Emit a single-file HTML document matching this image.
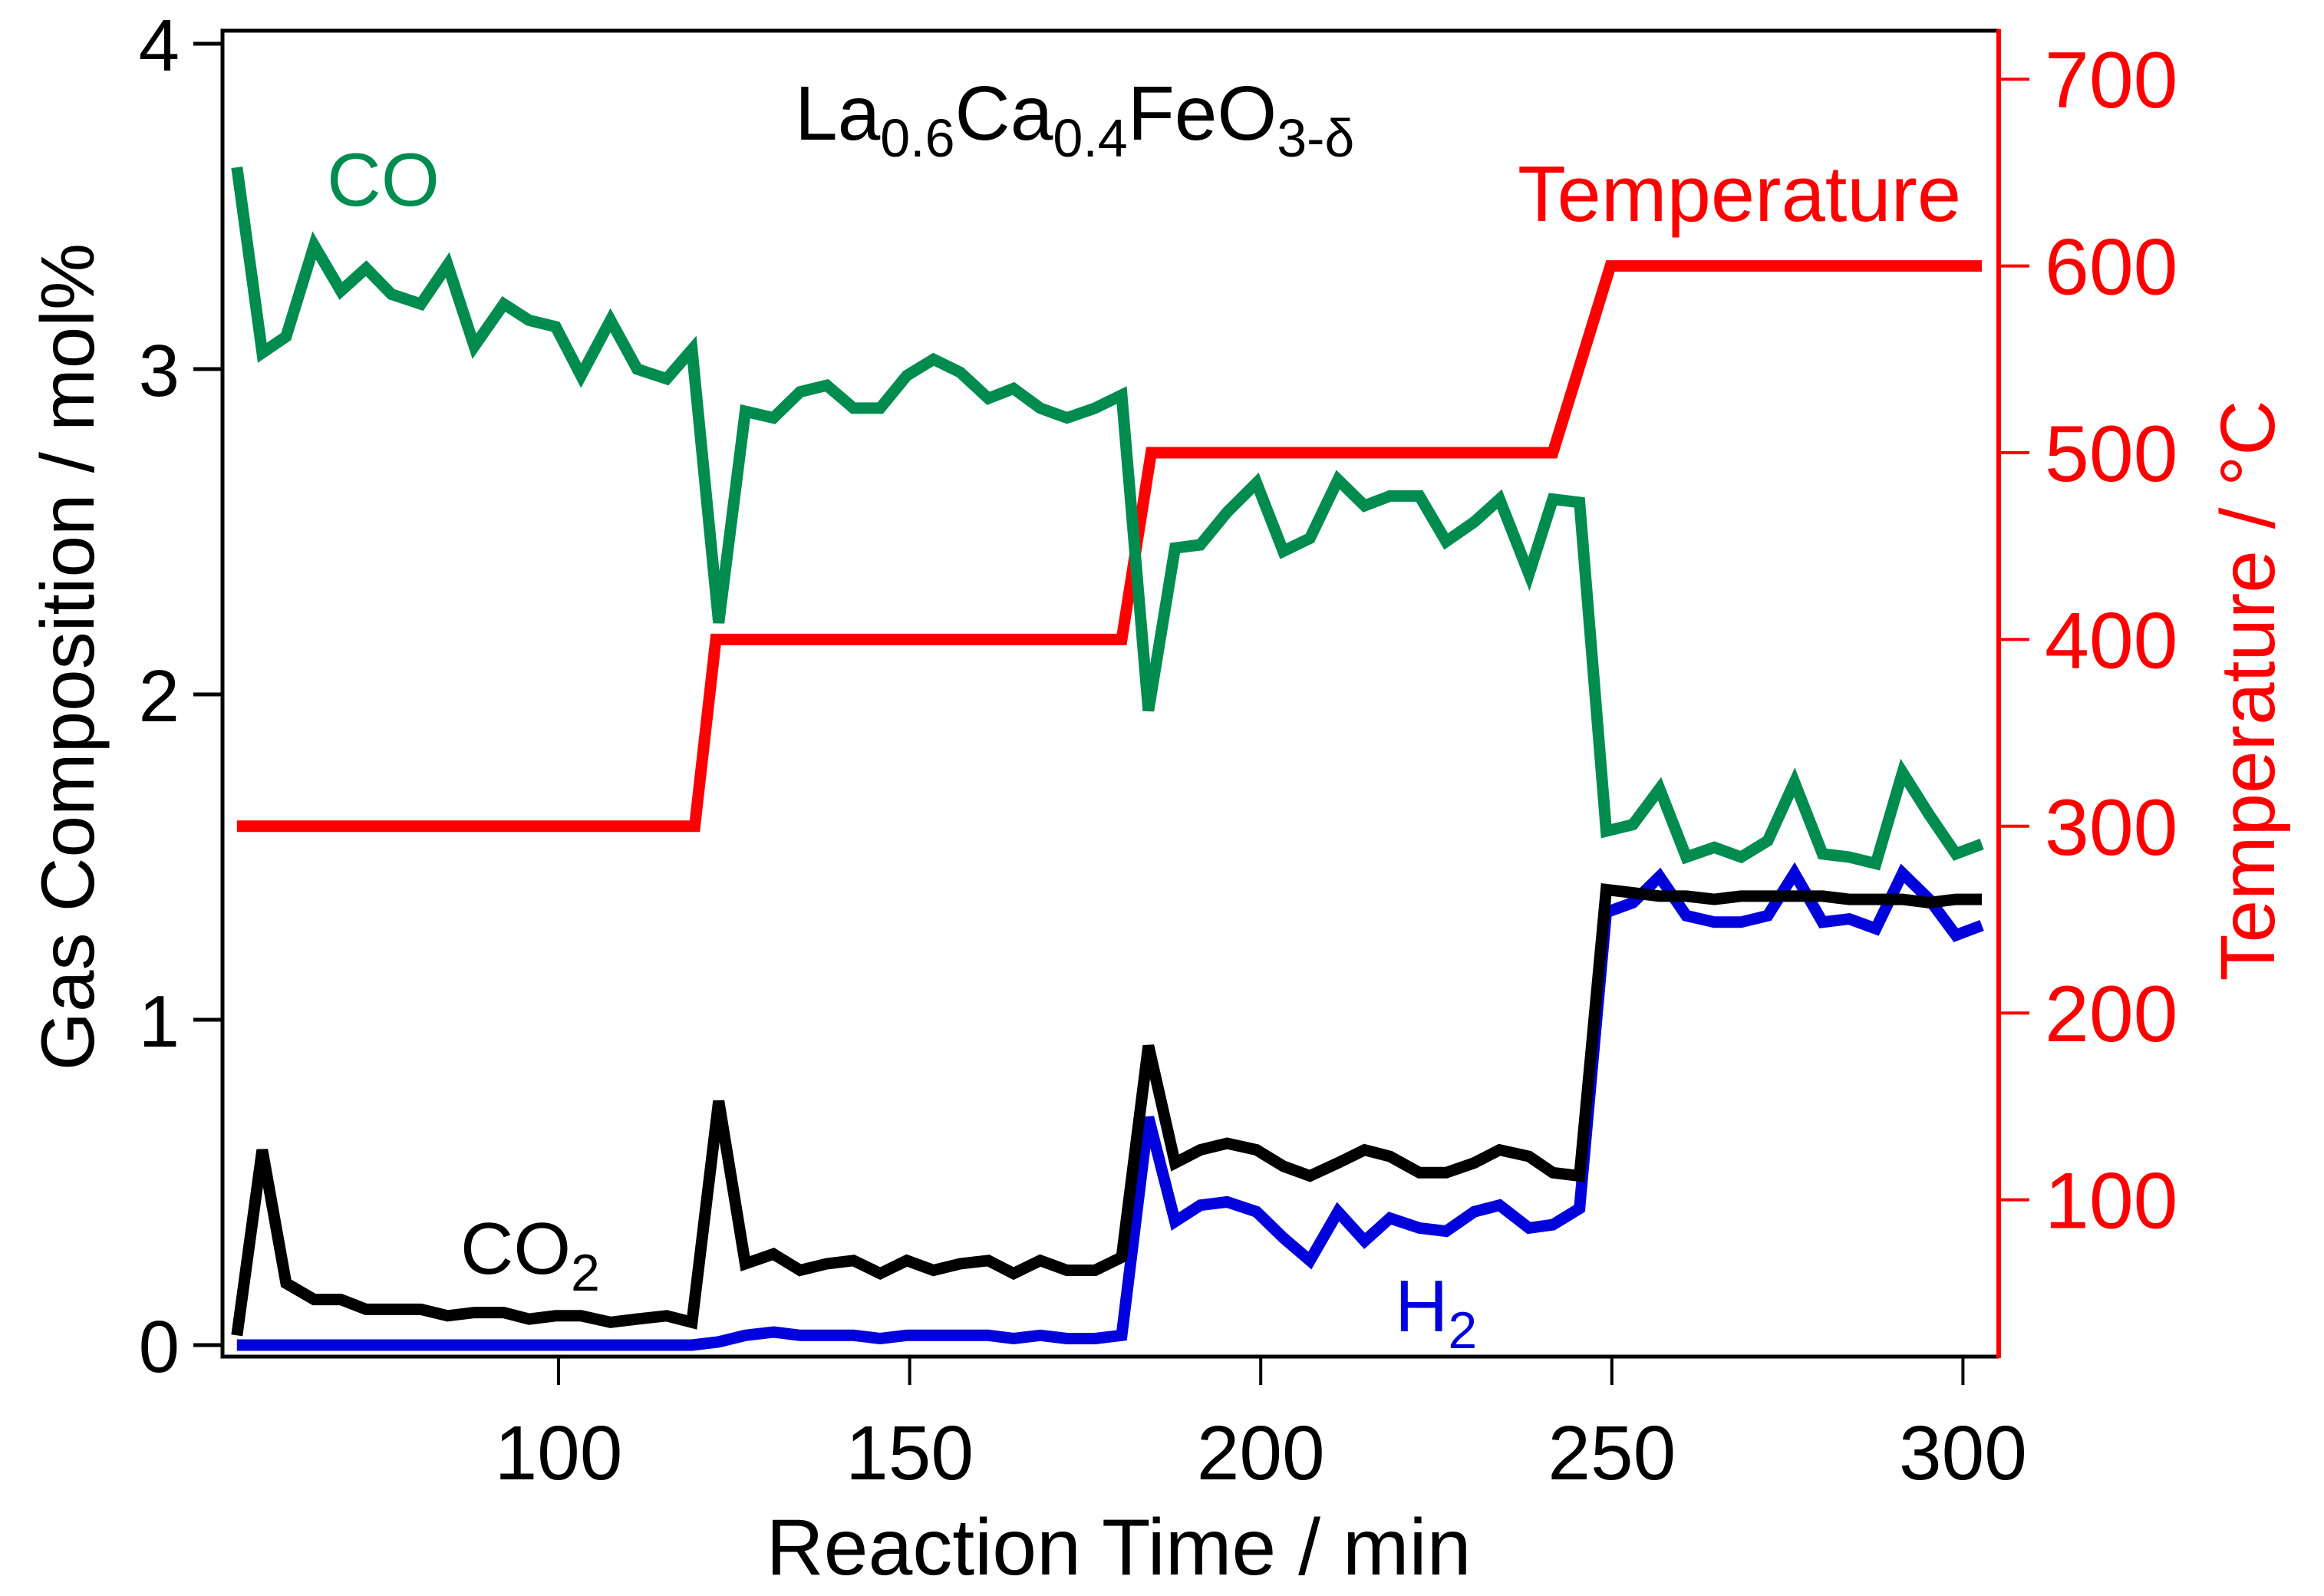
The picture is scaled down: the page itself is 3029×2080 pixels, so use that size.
<!DOCTYPE html>
<html><head><meta charset="utf-8"><style>
html,body{margin:0;padding:0;background:#fff;}
svg{display:block;font-family:"Liberation Sans",sans-serif;}
</style></head><body>
<svg id="chart" width="3029" height="2080" viewBox="0 0 3029 2080" xmlns="http://www.w3.org/2000/svg">
<g id="series"></g>
<g id="axes"></g>
<text x="1036" y="182" font-size="100" fill="#000">La<tspan font-size="70" dy="22">0.6</tspan><tspan dy="-22">Ca</tspan><tspan font-size="70" dy="22">0.4</tspan><tspan dy="-22">FeO</tspan><tspan font-size="70" dy="22">3-δ</tspan></text>
<text x="426" y="268" font-size="98" fill="#008c4f">CO</text>
<text x="1978" y="288" font-size="103" fill="#ff0000">Temperature</text>
<text x="600" y="1660" font-size="96" fill="#000">CO<tspan font-size="68" dy="22">2</tspan></text>
<text x="1818" y="1735" font-size="96" fill="#0000dd">H<tspan font-size="68" dy="22">2</tspan></text>
<text x="1458" y="2052" font-size="104" text-anchor="middle" fill="#000">Reaction Time / min</text>
<text transform="translate(122,856) rotate(-90)" font-size="98" text-anchor="middle" fill="#000">Gas Composition / mol%</text>
<text transform="translate(2964,900) rotate(-90)" font-size="100" text-anchor="middle" fill="#ff0000">Temperature / °C</text>
</svg>
<script>
const times=[54.2,57.8,61.2,65.2,69,72.6,76.2,80.4,84.2,88,92.2,95.8,99.6,103.2,107.4,111.2,115.4,119,122.8,126.6,130.6,134.4,138.2,142,145.8,149.6,153.4,157.2,161.2,164.8,168.6,172.4,176.4,180.2,184,187.8,191.4,195.2,199.4,203.2,207,211,214.8,218.4,222.6,226.4,230.4,234,238.2,241.6,245.4,249.2,253,256.8,260.6,264.6,268.4,272.2,276,280,283.8,287.6,291.4,295.2,299,302.7];
const coValues=[3.62,3.05,3.1,3.38,3.24,3.31,3.23,3.2,3.32,3.07,3.2,3.15,3.13,2.98,3.15,3.0,2.97,3.06,2.22,2.87,2.85,2.93,2.95,2.88,2.88,2.98,3.03,2.99,2.91,2.94,2.88,2.85,2.88,2.92,1.95,2.45,2.46,2.56,2.65,2.44,2.48,2.66,2.58,2.61,2.61,2.47,2.53,2.6,2.37,2.6,2.59,1.58,1.6,1.71,1.5,1.53,1.5,1.55,1.73,1.51,1.5,1.48,1.76,1.63,1.51,1.54];
const co2Values=[0.03,0.6,0.19,0.14,0.14,0.11,0.11,0.11,0.09,0.1,0.1,0.08,0.09,0.09,0.07,0.08,0.09,0.07,0.75,0.25,0.28,0.23,0.25,0.26,0.22,0.26,0.23,0.25,0.26,0.22,0.26,0.23,0.23,0.27,0.92,0.56,0.6,0.62,0.6,0.55,0.52,0.56,0.6,0.58,0.53,0.53,0.56,0.6,0.58,0.53,0.52,1.4,1.39,1.38,1.38,1.37,1.38,1.38,1.38,1.38,1.37,1.37,1.37,1.36,1.37,1.37];
const h2Values=[0,0,0,0,0,0,0,0,0,0,0,0,0,0,0,0,0,0,0.01,0.03,0.04,0.03,0.03,0.03,0.02,0.03,0.03,0.03,0.03,0.02,0.03,0.02,0.02,0.03,0.7,0.38,0.43,0.44,0.41,0.33,0.26,0.41,0.32,0.39,0.36,0.35,0.41,0.43,0.36,0.37,0.42,1.33,1.36,1.44,1.32,1.3,1.3,1.32,1.45,1.3,1.31,1.28,1.45,1.37,1.26,1.29];
const tempTimes=[54.2,119.4,122.4,180.2,184.4,241.6,249.8,302.7];
const tempValues=[300,300,400,400,500,500,600,600];
const xTicks=[100,150,200,250,300];
const yTicks=[0,1,2,3,4];
const y2Ticks=[100,200,300,400,500,600,700];

const NS='http://www.w3.org/2000/svg';
const X=t=>728+(t-100)*9.152;
const Y=v=>1753-v*424;
const Y2=T=>1807-T*2.434;
const series=document.getElementById('series');
const axes=document.getElementById('axes');
function mk(tag,attrs,parent){const e=document.createElementNS(NS,tag);for(const k in attrs)e.setAttribute(k,attrs[k]);parent.appendChild(e);return e;}
function line(xs,ys,fx,fy,color,name){
  const pts=xs.map((t,i)=>fx(t).toFixed(1)+','+fy(ys[i]).toFixed(1)).join(' ');
  const p=mk('polyline',{points:pts,fill:'none',stroke:color,'stroke-width':15,'stroke-linejoin':'miter','stroke-miterlimit':3},series);
  
  
}
line(tempTimes,tempValues,X,Y2,'#ff0000','temperature-line');
line(times,coValues,X,Y,'#008c4f','co-line');
line(times,h2Values,X,Y,'#0000dd','h2-line');
line(times,co2Values,X,Y,'#000000','co2-line');

const f1=mk('path',{d:'M2605,40 H290 V1768 H2605',fill:'none',stroke:'#000','stroke-width':5},axes);


const f2=mk('line',{x1:2605,y1:38,x2:2605,y2:1770,stroke:'#ff0000','stroke-width':6},axes);


xTicks.forEach(t=>{
  const tk=mk('line',{x1:X(t),y1:1768,x2:X(t),y2:1805,stroke:'#000','stroke-width':4},axes);
  
  
  const lb=mk('text',{x:X(t),y:1928,'font-size':100,'text-anchor':'middle',fill:'#000'},axes);
  lb.textContent=t;
  
  
});
yTicks.forEach(v=>{
  const tk=mk('line',{x1:252,y1:Y(v),x2:290,y2:Y(v),stroke:'#000','stroke-width':5},axes);
  
  
  const lb=mk('text',{x:234,y:Y(v)+35,'font-size':96,'text-anchor':'end',fill:'#000'},axes);
  lb.textContent=v;
  
  
});
y2Ticks.forEach(v=>{
  const tk=mk('line',{x1:2605,y1:Y2(v),x2:2645,y2:Y2(v),stroke:'#ff0000','stroke-width':4},axes);
  
  
  const lb=mk('text',{x:2665,y:Y2(v)+37,'font-size':104,fill:'#ff0000'},axes);
  lb.textContent=v;
  
  
});
</script>
</body></html>
